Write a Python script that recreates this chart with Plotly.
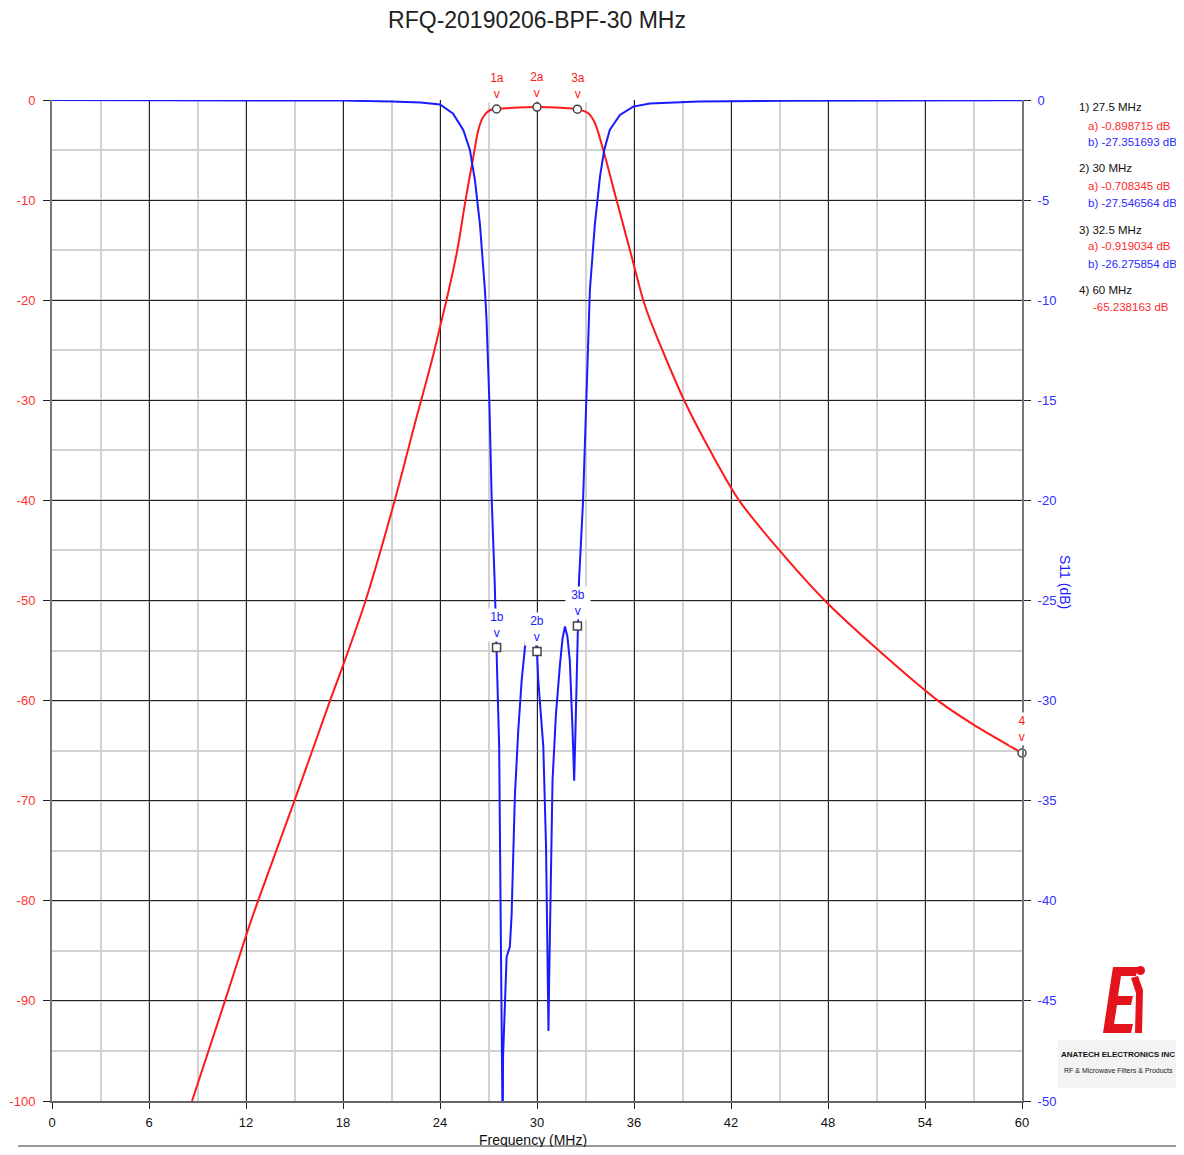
import plotly.graph_objects as go

# ---------------- data ----------------
s21_freq = [8.66, 10.7, 12.0, 12.7, 15.0, 17.2, 18.0, 19.4, 21.2, 22.5, 23.5, 24.1, 24.4,
            25.07, 25.58, 26.06, 26.37, 26.67, 27.1, 27.5, 28.5, 30.0, 31.5, 32.5, 33.17,
            33.58, 34.1, 34.92, 35.75, 36.57, 37.0, 39.1, 40.8, 42.5, 45.0, 47.8, 51.0, 54.8,
            57.0, 60.0]
s21_db = [-100, -90, -83.5, -80.2, -70, -60, -56.5, -50, -40, -32, -26, -22, -20,
          -15, -10, -5.7, -3, -1.7, -1.0, -0.898715, -0.78, -0.708345, -0.78, -0.919034, -1.33,
          -2.3, -5, -10, -15, -20, -22, -30, -35.3, -40, -45.0, -50, -54.8, -60,
          -62.4, -65.238163]

s11_freq = [0, 6, 12, 18, 21, 22.8, 24.0, 24.8, 25.44, 25.85, 26.16, 26.47, 26.78, 26.88,
            27.05, 27.2, 27.38, 27.5, 27.56, 27.66, 27.75, 27.8, 27.86, 27.88, 27.9, 28.0,
            28.12, 28.32, 28.43, 28.63, 28.84, 29.05, 29.26, 29.45, 29.62, 29.8, 30.0,
            30.08, 30.39, 30.56, 30.63, 30.71, 30.75, 30.84, 30.96, 31.17, 31.31, 31.42,
            31.58, 31.73, 31.88, 32.03, 32.2, 32.3, 32.38, 32.44, 32.5, 32.6, 32.85, 33.03,
            33.17, 33.27, 33.58, 33.9, 34.16, 34.5, 35.13, 35.95, 36.98, 40, 45, 50, 55, 60]
s11_db = [0.0, -0.005, -0.01, -0.03, -0.08, -0.12, -0.22, -0.67, -1.5, -2.5, -4.0, -6.2, -9.5, -11,
          -15, -20, -24, -27.351693, -29, -32.3, -40.7, -45.7, -50, -52, -47.8, -45,
          -42.8, -42.3, -40.7, -34.8, -31.5, -29, -27.3, -26.3, -26.0, -26.4, -27.546564,
          -29, -32.3, -37.3, -42.3, -46.5, -44, -39, -34, -30.7, -29, -28.2,
          -26.9, -26.3, -26.8, -28, -31.5, -34, -31.5, -29, -26.275854, -24, -20, -15,
          -11, -9.5, -6.2, -3.8, -2.5, -1.5, -0.75, -0.33, -0.17, -0.08, -0.04, -0.02, -0.01, -0.01]

marker_freq = [27.5, 30.0, 32.5]
marker_s21 = [-0.898715, -0.708345, -0.919034]
marker_s11 = [-27.351693, -27.546564, -26.275854]
marker4_freq = [60.0]
marker4_s21 = [-65.238163]

x_ticks = [0, 6, 12, 18, 24, 30, 36, 42, 48, 54, 60]
left_ticks = [0, -10, -20, -30, -40, -50, -60, -70, -80, -90, -100]
right_ticks = [0, -5, -10, -15, -20, -25, -30, -35, -40, -45, -50]

title_text = "RFQ-20190206-BPF-30 MHz"
readout = [
    ("1) 27.5 MHz", "#111111", 0),
    ("a) -0.898715 dB", "#ff2a2a", 9),
    ("b) -27.351693 dB", "#2a2aff", 9),
    ("2) 30 MHz", "#111111", 0),
    ("a) -0.708345 dB", "#ff2a2a", 9),
    ("b) -27.546564 dB", "#2a2aff", 9),
    ("3) 32.5 MHz", "#111111", 0),
    ("a) -0.919034 dB", "#ff2a2a", 9),
    ("b) -26.275854 dB", "#2a2aff", 9),
    ("4) 60 MHz", "#111111", 0),
    ("-65.238163 dB", "#ff2a2a", 14),
]
readout_y = [107, 126, 142, 168, 186, 203, 230, 246, 264, 290, 307]

# ---------------- layout helpers (reference pixel -> paper) ----------------
L, R, T, B = 52, 1022, 100, 1101     # plot area in reference pixels
OFF = 8                              # page body margin
W, H = 1184 - 2 * OFF, 1155 - 2 * OFF


def px(x):
    return (x - L) / (R - L)


def py(y):
    return (B - y) / (B - T)


FONT = "Liberation Sans, Arial, sans-serif"
RED = "#ff1a1a"
BLUE = "#1a1aff"

fig = go.Figure()

fig.add_trace(go.Scatter(x=s21_freq, y=s21_db, mode="lines",
                         line=dict(color=RED, width=2, shape="spline", smoothing=0.8),
                         yaxis="y", hoverinfo="skip"))
fig.add_trace(go.Scatter(x=s11_freq, y=s11_db, mode="lines", line=dict(color=BLUE, width=2),
                         yaxis="y2", hoverinfo="skip"))

mk = dict(color="white", size=8, line=dict(color="#444", width=1.5))
fig.add_trace(go.Scatter(x=marker_freq, y=marker_s21, mode="markers", yaxis="y",
                         marker=dict(symbol="circle", **mk), cliponaxis=False))
fig.add_trace(go.Scatter(x=marker4_freq, y=marker4_s21, mode="markers", yaxis="y",
                         marker=dict(symbol="circle", **mk), cliponaxis=False))
fig.add_trace(go.Scatter(x=marker_freq, y=marker_s11, mode="markers", yaxis="y2",
                         marker=dict(symbol="square", **mk), cliponaxis=False))

annotations = []
labels = [
    ("1a", 497, 103, RED), ("2a", 537, 102, RED), ("3a", 578, 103, RED),
    ("1b", 497, 642, BLUE), ("2b", 537, 646, BLUE), ("3b", 578, 620, BLUE),
    ("4", 1022, 746, RED),
]
for txt, xp, yb, col in labels:
    annotations.append(dict(text=f"{txt}<br>v", x=px(xp), y=py(yb), xref="paper", yref="paper",
                            xanchor="center", yanchor="bottom", showarrow=False, width=22,
                            font=dict(family=FONT, size=12, color=col),
                            bgcolor="white", borderpad=1))

for (txt, col, indent), yy in zip(readout, readout_y):
    annotations.append(dict(text=txt, x=px(1077 + indent), y=py(yy), xref="paper", yref="paper",
                            xanchor="left", yanchor="middle", showarrow=False,
                            font=dict(family=FONT, size=11.5, color=col)))

annotations.append(dict(text="S11 (dB)", x=px(1065), y=py(582), xref="paper", yref="paper",
                        xanchor="center", yanchor="middle", showarrow=False, textangle=90,
                        font=dict(family=FONT, size=14, color=BLUE)))
annotations.append(dict(text="Frequency (MHz)", x=px(533), y=py(1140), xref="paper", yref="paper",
                        xanchor="center", yanchor="middle", showarrow=False,
                        font=dict(family=FONT, size=14, color="#111")))

annotations.append(dict(text="<b>ANATECH ELECTRONICS INC</b>", x=px(1118), y=py(1054), xref="paper",
                        yref="paper", xanchor="center", yanchor="middle", showarrow=False,
                        font=dict(family=FONT, size=8, color="#111")))
annotations.append(dict(text="RF & Microwave Filters & Products", x=px(1118), y=py(1070), xref="paper",
                        yref="paper", xanchor="center", yanchor="middle", showarrow=False,
                        font=dict(family=FONT, size=7, color="#222")))


def path(points):
    return "M " + " L ".join(f"{px(a):.5f},{py(b):.5f}" for a, b in points) + " Z"


shapes = []
shapes.append(dict(type="rect", xref="paper", yref="paper", x0=px(1058), x1=px(1184),
                   y0=py(1088), y1=py(1040), fillcolor="#f3f3f3", line=dict(width=0), layer="below"))
E_pts = [(1113, 967), (1138, 967), (1136, 976), (1121, 976), (1118, 996), (1133, 996), (1131, 1005),
         (1117, 1005), (1114, 1024), (1133, 1024), (1131, 1033), (1103, 1033)]
shapes.append(dict(type="path", xref="paper", yref="paper", path=path(E_pts),
                   fillcolor="#e3141c", line=dict(width=0)))
i_pts = [(1131, 978), (1138, 976), (1143, 990), (1142, 1033), (1135, 1033), (1136, 993)]
shapes.append(dict(type="path", xref="paper", yref="paper", path=path(i_pts),
                   fillcolor="#e3141c", line=dict(width=0)))
shapes.append(dict(type="circle", xref="paper", yref="paper", x0=px(1136), x1=px(1145),
                   y0=py(975), y1=py(966), fillcolor="#e3141c", line=dict(width=0)))
shapes.append(dict(type="line", xref="paper", yref="paper", x0=px(18), x1=px(1184),
                   y0=py(1146), y1=py(1146), line=dict(color="#777", width=1.5)))

fig.update_layout(
    width=W, height=H,
    margin=dict(l=L - OFF, r=W - (R - OFF), t=T - OFF, b=H - (B - OFF)),
    paper_bgcolor="white", plot_bgcolor="white",
    showlegend=False,
    title=dict(text=title_text, x=0.5, xref="paper", xanchor="center",
               y=1 - (20 - OFF) / H, yref="container", yanchor="middle",
               font=dict(family=FONT, size=23, color="#222")),
    xaxis=dict(range=[0, 60], tickvals=x_ticks, ticktext=[str(v) for v in x_ticks],
               automargin=False,
               showgrid=True, gridcolor="#222", gridwidth=1,
               minor=dict(dtick=3, tick0=0, showgrid=True, gridcolor="#d2d2d2", gridwidth=1.5),
               showline=True, linecolor="#666", linewidth=2,
               ticks="outside", ticklen=6, tickcolor="#222", ticklabelstandoff=2,
               tickfont=dict(family=FONT, size=13, color="#111"), zeroline=False),
    yaxis=dict(range=[-100, 0], tickvals=left_ticks, ticktext=[str(v) for v in left_ticks],
               automargin=False,
               showgrid=True, gridcolor="#222", gridwidth=1,
               minor=dict(dtick=5, tick0=0, showgrid=True, gridcolor="#d2d2d2", gridwidth=1.5),
               showline=True, linecolor="#777", linewidth=2,
               ticks="outside", ticklen=7, tickcolor="#222", ticklabelstandoff=5,
               tickfont=dict(family=FONT, size=13, color="#ff3030"), zeroline=False),
    yaxis2=dict(range=[-50, 0], tickvals=right_ticks, ticktext=[str(v) for v in right_ticks],
                automargin=False,
                overlaying="y", side="right", showgrid=False,
                showline=True, linecolor="#777", linewidth=2,
                ticks="outside", ticklen=7, tickcolor="#222", ticklabelstandoff=4,
                tickfont=dict(family=FONT, size=13, color="#3030ff"), zeroline=False),
    annotations=annotations,
    shapes=shapes,
)

fig.write_html("out.html")
